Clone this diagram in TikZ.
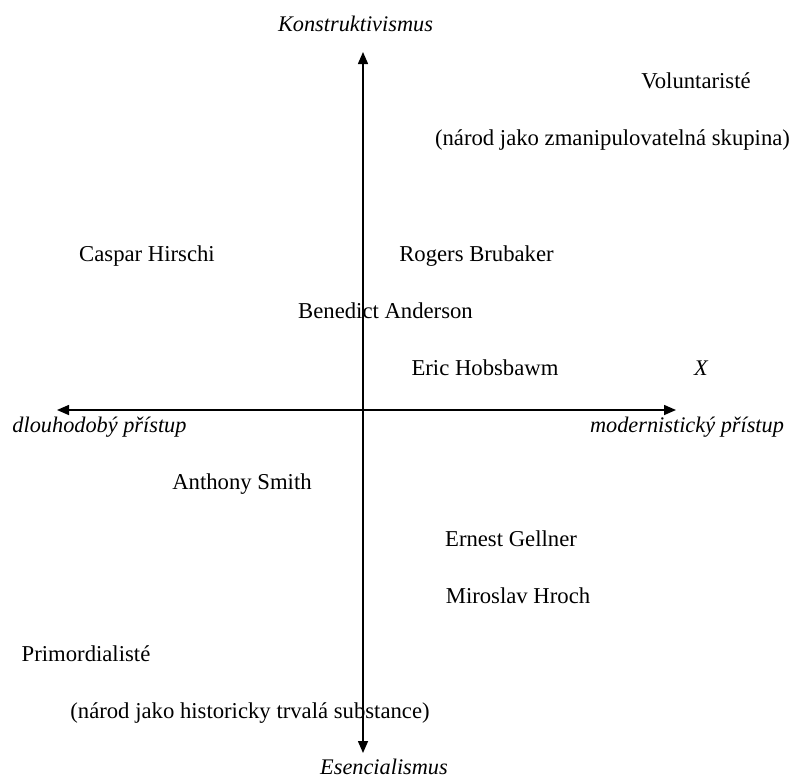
\documentclass[tikz,border=0pt]{standalone}
\usepackage{fontspec}
\setmainfont{Liberation Serif}
\usetikzlibrary{arrows.meta}
\begin{document}
\begin{tikzpicture}[x=1pt,y=-1pt,
  lbl/.style={inner sep=0pt,anchor=base,font=\fontsize{22.7}{26}\selectfont},
  axlbl/.style={inner sep=0pt,anchor=base,font=\fontsize{22.3}{26}\selectfont\itshape},
  axis/.style={line width=1.5pt,-{Triangle[length=12pt,width=10pt]}}]
\useasboundingbox (0,0) rectangle (795,780);
\coordinate (o) at (363,410);
\coordinate (top) at (363,52);
\coordinate (bot) at (363,753);
\coordinate (left) at (57,410);
\coordinate (right) at (676,410);
\draw[axis] (o) -- (top);
\draw[axis] (o) -- (bot);
\draw[axis] (o) -- (left);
\draw[axis] (o) -- (right);
\node[axlbl] (kon) at (355.5,31) {Konstruktivismus};
\node[axlbl] (ese) at (384,774) {Esencialismus};
\node[axlbl] (dlo) at (99.5,432) {dlouhodobý přístup};
\node[axlbl] (mod) at (687,432) {modernistický přístup};
\node[axlbl] (x) at (701,375) {X};
\node[lbl] (vol) at (696,88) {Voluntaristé};
\node[lbl] (vold) at (612.5,145) {(národ jako zmanipulovatelná skupina)};
\node[lbl] (cas) at (147,261) {Caspar Hirschi};
\node[lbl] (rog) at (476.5,261) {Rogers Brubaker};
\node[lbl] (ben) at (385.5,318) {Benedict Anderson};
\node[lbl] (eri) at (485,375) {Eric Hobsbawm};
\node[lbl] (ant) at (242,489) {Anthony Smith};
\node[lbl] (ern) at (511,546) {Ernest Gellner};
\node[lbl] (mir) at (518,603) {Miroslav Hroch};
\node[lbl] (pri) at (86,661) {Primordialisté};
\node[lbl] (prid) at (250,718) {(národ jako historicky trvalá substance)};
\end{tikzpicture}
\end{document}
